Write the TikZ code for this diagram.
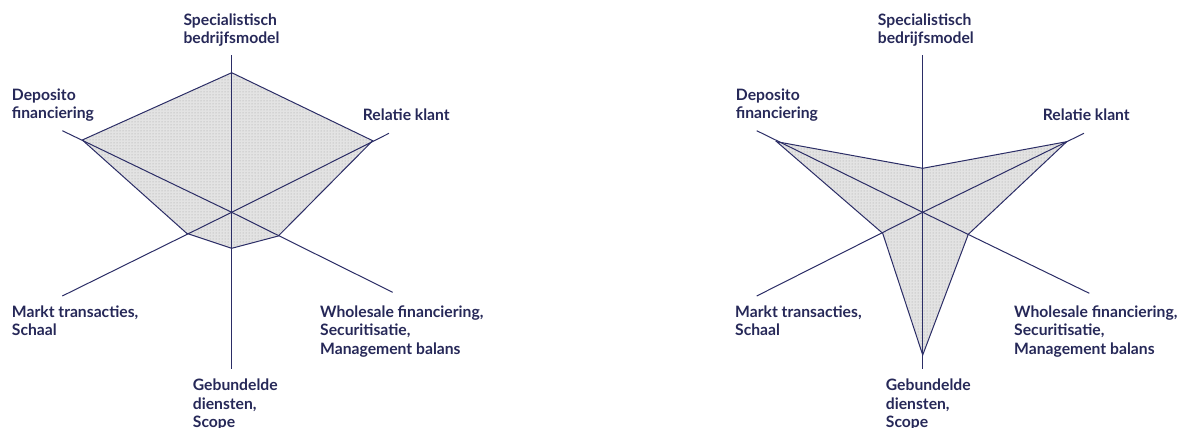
\documentclass[tikz,border=0pt]{standalone}
\usepackage{fontspec}
\setmainfont{Lato}
\usetikzlibrary{patterns}
\definecolor{navy}{HTML}{2B2D66}
\definecolor{labelc}{HTML}{262858}
\begin{document}
\begin{tikzpicture}[x=1pt,y=-1pt,
  axis/.style={draw=navy, line width=1pt},
  web/.style={draw=navy, line width=1pt, line join=miter},
  webfill/.style={fill=gray!22, postaction={pattern=dots, pattern color=gray!75}},
  lbl/.style={anchor=base west, inner sep=0pt, align=left, text=labelc,
    font=\fontsize{15.7}{18.5}\selectfont\bfseries}]
\useasboundingbox (0,0) rectangle (1177,428);

% ---------- left chart ----------
\coordinate (Lc) at (231.7,212.3);
\coordinate (LaT) at (231.7,55);
\coordinate (LaB) at (231.7,369.3);
\coordinate (LaUL) at (62.3,130.7);
\coordinate (LaUR) at (389,133.3);
\coordinate (LaLL) at (62.3,296);
\coordinate (LaLR) at (392.7,292.3);
\coordinate (Lp1) at (231.7,72.7);
\coordinate (Lp2) at (372.7,140.7);
\coordinate (Lp3) at (278.3,236);
\coordinate (Lp4) at (231.7,248.3);
\coordinate (Lp5) at (186.7,233.3);
\coordinate (Lp6) at (82.3,140);

\path[webfill] (Lp1) -- (Lp2) -- (Lp3) -- (Lp4) -- (Lp5) -- (Lp6) -- cycle;
\draw[axis] (Lc) -- (LaT);
\draw[axis] (Lc) -- (LaB);
\draw[axis] (Lc) -- (LaUL);
\draw[axis] (Lc) -- (LaUR);
\draw[axis] (Lc) -- (LaLL);
\draw[axis] (Lc) -- (LaLR);
\draw[web] (Lp1) -- (Lp2) -- (Lp3) -- (Lp4) -- (Lp5) -- (Lp6) -- cycle;

% anchor = baseline of the last line
\node[lbl] (Lt1) at (183.3,44) {Specialistisch\\bedrijfsmodel};
\node[lbl] (Lt2) at (11.7,118.5) {Deposito\\financiering};
\node[lbl] (Lt3) at (362.7,120) {Relatie klant};
\node[lbl] (Lt4) at (11.7,335.5) {Markt transacties,\\Schaal};
\node[lbl] (Lt5) at (320,354) {Wholesale financiering,\\Securitisatie,\\Management balans};
\node[lbl] (Lt6) at (192.7,427.7) {Gebundelde\\diensten,\\Scope};

% ---------- right chart ----------
\coordinate (Rc) at (922.7,212.3);
\coordinate (RaT) at (922.7,55);
\coordinate (RaB) at (922.7,369.3);
\coordinate (RaUL) at (756.7,130.7);
\coordinate (RaUR) at (1084,133.3);
\coordinate (RaLL) at (756.7,296);
\coordinate (RaLR) at (1089.3,293.3);
\coordinate (Rp1) at (922.7,168.3);
\coordinate (Rp2) at (1066.7,141.7);
\coordinate (Rp3) at (968.3,234.3);
\coordinate (Rp4) at (922.7,355);
\coordinate (Rp5) at (882.7,233.3);
\coordinate (Rp6) at (776.7,141.7);

\path[webfill] (Rp1) -- (Rp2) -- (Rp3) -- (Rp4) -- (Rp5) -- (Rp6) -- cycle;
\draw[axis] (Rc) -- (RaT);
\draw[axis] (Rc) -- (RaB);
\draw[axis] (Rc) -- (RaUL);
\draw[axis] (Rc) -- (RaUR);
\draw[axis] (Rc) -- (RaLL);
\draw[axis] (Rc) -- (RaLR);
\draw[web] (Rp1) -- (Rp2) -- (Rp3) -- (Rp4) -- (Rp5) -- (Rp6) -- cycle;

\node[lbl] (Rt1) at (877.7,44) {Specialistisch\\bedrijfsmodel};
\node[lbl] (Rt2) at (735.7,118.5) {Deposito\\financiering};
\node[lbl] (Rt3) at (1042.7,120) {Relatie klant};
\node[lbl] (Rt4) at (735,335.5) {Markt transacties,\\Schaal};
\node[lbl] (Rt5) at (1014,354) {Wholesale financiering,\\Securitisatie,\\Management balans};
\node[lbl] (Rt6) at (885.7,427.7) {Gebundelde\\diensten,\\Scope};
\end{tikzpicture}
\end{document}
